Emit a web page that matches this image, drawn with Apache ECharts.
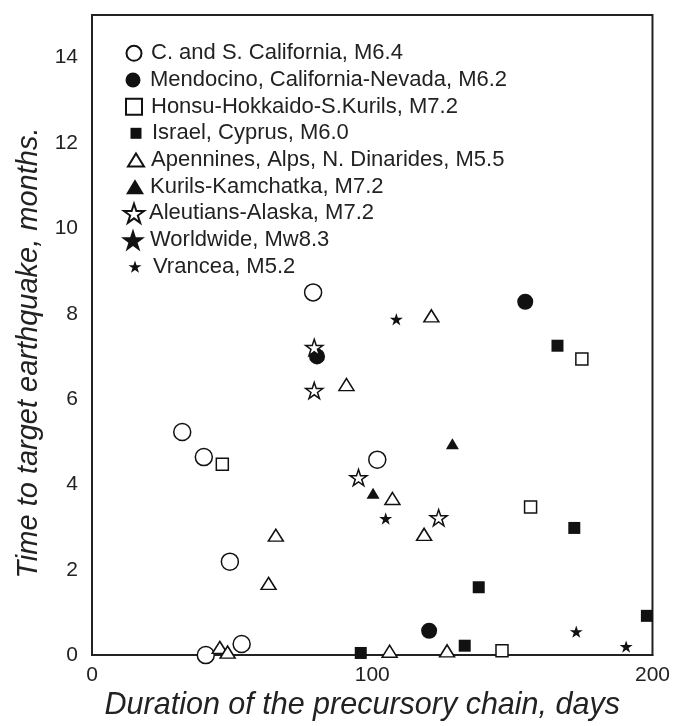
<!DOCTYPE html>
<html>
<head>
<meta charset="utf-8">
<script src="https://cdn.jsdelivr.net/npm/echarts@6/dist/echarts.min.js"></script>
<style>
html,body{margin:0;padding:0;background:#fff;}
#chart{width:673px;height:726px;}
</style>
</head>
<body>
<div id="chart"></div>
<script>
// data: [days, months]
var calif = [[78.9,8.5],[32.2,5.23],[39.9,4.64],[101.8,4.58],[49.2,2.19],[53.4,0.26],[40.6,0.0]];
var mendocino = [[80.3,7.0],[154.6,8.28],[120.3,0.57]];
var honsu = [[46.5,4.47],[174.8,6.94],[156.5,3.47],[146.3,0.1]];
var israel = [[95.9,0.05],[166.1,7.25],[172.1,2.98],[138.0,1.59],[198.0,0.92],[133.0,0.22]];
var apennines = [[90.8,6.34],[65.6,2.81],[63.0,1.68],[45.6,0.18],[48.4,0.07],[121.1,7.95],[107.2,3.67],[118.5,2.83],[106.2,0.09],[126.7,0.1]];
var kurils = [[100.3,3.79],[128.6,4.95]];
var aleutians = [[79.3,7.21],[79.3,6.2],[95.1,4.16],[123.7,3.22]];
var worldwide = [];
var vrancea = [[108.6,7.87],[104.8,3.2],[172.8,0.55],[190.6,0.2]];

var seriesNames = ['C. and S. California, M6.4','Mendocino, California-Nevada, M6.2','Honsu-Hokkaido-S.Kurils, M7.2',
	'Israel, Cyprus, M6.0','Apennines, Alps, N. Dinarides, M5.5','Kurils-Kamchatka, M7.2',
	'Aleutians-Alaska, M7.2','Worldwide, Mw8.3','Vrancea, M5.2'];

var STAR = 'path://M50,0 L61.2,34.5 L97.6,34.5 L68.2,55.9 L79.4,90.5 L50,69.1 L20.6,90.5 L31.8,55.9 L2.4,34.5 L38.8,34.5 Z';

// legend rows: icon centre x, icon box w/h, where the text starts
var legIconX = [133,133,133,136,135,135,133,133,135];
var legIconW = [15,15,16,11,16,18,20,24,13];
var legIconH = [15,15,16,11,13,15,20,24,13];
var legTextX = [150,150,150,152,150,150,147,147,153];

function mk(name, data, symbol, size, filled, keep){
	return {
		name: name,
		type: 'scatter',
		data: data,
		symbol: symbol,
		symbolSize: size,
		symbolKeepAspect: keep,
		itemStyle: {
			color: filled ? '#111' : '#fff',
			borderColor: '#111',
			borderWidth: filled ? 0 : 1.5,
			opacity: 1
		},
		emphasis: {disabled: true}
	};
}

var legends = seriesNames.map(function(n, i){
	var pad = Math.max(0, legTextX[i] - (legIconX[i] + legIconW[i] / 2 + 5));
	return {
		orient: 'vertical',
		left: legIconX[i] - legIconW[i] / 2,
		top: 53.3 + i * 26.67 - 13,
		padding: 0,
		itemWidth: legIconW[i],
		itemHeight: legIconH[i],
		selectedMode: false,
		textStyle: {fontFamily: 'Liberation Sans', fontSize: 22, lineHeight: 26, color: '#222',
			padding: [0, 0, 0, pad]},
		data: [n]
	};
});

var chart = echarts.init(document.getElementById('chart'));
var options = {
	animation: false,
	grid: {
		left: 92, right: 20, top: 15, bottom: 69,
		show: true, borderColor: '#222', borderWidth: 2
	},
	legend: legends,
	xAxis: {
		type: 'value', min: 0, max: 200, interval: 100,
		axisLine: {lineStyle: {color: '#222', width: 2}},
		axisTick: {show: false},
		splitLine: {show: false},
		axisLabel: {fontFamily: 'Liberation Sans', fontSize: 21, color: '#222', margin: 10},
		name: 'Duration of the precursory chain, days',
		nameLocation: 'middle', nameGap: 34,
		nameTextStyle: {fontFamily: 'Liberation Sans', fontSize: 30.5, fontStyle: 'italic', color: '#222',
			padding: [0, 20, 0, 0]}
	},
	yAxis: {
		type: 'value', min: 0, max: 15, interval: 2,
		axisLine: {lineStyle: {color: '#222', width: 2}},
		axisTick: {show: false},
		splitLine: {show: false},
		axisLabel: {fontFamily: 'Liberation Sans', fontSize: 21, color: '#222', margin: 14,
			formatter: function(v){ return v > 14 ? '' : v; }},
		name: 'Time to target earthquake, months.',
		nameLocation: 'middle', nameGap: 48,
		nameTextStyle: {fontFamily: 'Liberation Sans', fontSize: 29, fontStyle: 'italic', color: '#222',
			padding: [0, 36, 0, 0]}
	},
	series: [
		mk(seriesNames[0], calif, 'circle', 17, false, true),
		mk(seriesNames[1], mendocino, 'circle', 16, true, true),
		mk(seriesNames[2], honsu, 'rect', 12, false, true),
		mk(seriesNames[3], israel, 'rect', 12, true, true),
		mk(seriesNames[4], apennines, 'triangle', [15, 12], false, false),
		mk(seriesNames[5], kurils, 'triangle', [13, 11], true, false),
		mk(seriesNames[6], aleutians, STAR, 17, false, true),
		mk(seriesNames[7], worldwide, STAR, 24, true, true),
		mk(seriesNames[8], vrancea, STAR, 13, true, true)
	]
};
chart.setOption(options);
</script>
</body>
</html>
